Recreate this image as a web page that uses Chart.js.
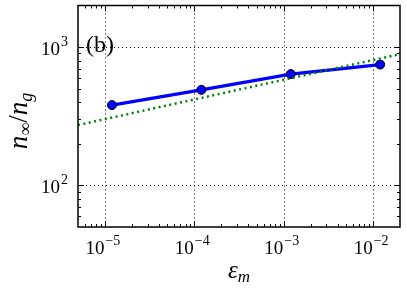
<!DOCTYPE html>
<html>
<head>
<meta charset="utf-8">
<script src="https://cdn.jsdelivr.net/npm/chart.js@4"></script>
<style>
  body { margin: 0; background: #fff; }
  #wrap { width: 407px; height: 295px; }
</style>
</head>
<body>
<div id="wrap"><canvas id="myChart" width="407" height="295"></canvas></div>
<script>
// values
const epsM = [1.2e-5, 1.2e-4, 1.2e-3, 1.2e-2];
const nRatio = [381, 491, 638, 748];
const fitX = [5e-6, 2e-2];
const fitY = [273, 890];
const xDecades = [1e-5, 1e-4, 1e-3, 1e-2];
const xExponents = ["\u22125", "\u22124", "\u22123", "\u22122"];
const yDecades = [100, 1000];
const yExponents = ["2", "3"];

const SERIF = '"Liberation Serif", "DejaVu Serif", serif';

function minorValues(min, max) {
	let out = [];
	let start = Math.floor(Math.log10(min));
	let end = Math.ceil(Math.log10(max));
	for (let e = start; e <= end; e++) {
		for (let m = 1; m <= 9; m++) {
			let v = m * Math.pow(10, e);
			if (v > min * 1.0001 && v < max * 0.9999) out.push({ v: v, major: m === 1 });
		}
	}
	return out;
}

// draw "10" with a raised exponent
function powWidth(ctx, exp) {
	ctx.font = "19px " + SERIF;
	let w1 = ctx.measureText("10").width;
	ctx.font = "14px " + SERIF;
	return w1 + 1 + ctx.measureText(exp).width;
}
function drawPow(ctx, exp, x, y) {
	ctx.font = "19px " + SERIF;
	ctx.fillText("10", x, y);
	let w1 = ctx.measureText("10").width;
	ctx.font = "14px " + SERIF;
	ctx.fillText(exp, x + w1 + 1, y - 9);
}

const axesPlugin = {
	id: 'axesPlugin',
	beforeDatasetsDraw(chart) {
		const ctx = chart.ctx;
		const a = chart.chartArea;
		const xs = chart.scales.x, ys = chart.scales.y;
		ctx.save();
		// "(b)" panel tag
		ctx.fillStyle = "#000";
		ctx.textBaseline = "alphabetic";
		ctx.textAlign = "left";
		ctx.font = "24px " + SERIF;
		ctx.fillText("(b)", a.left + 8, a.top + 46);
		// dotted grid at decades
		ctx.strokeStyle = "#000";
		ctx.lineWidth = 1;
		ctx.setLineDash([1, 3]);
		xDecades.forEach(v => {
			let px = Math.round(xs.getPixelForValue(v)) + 0.5;
			ctx.beginPath(); ctx.moveTo(px, a.top); ctx.lineTo(px, a.bottom); ctx.stroke();
		});
		yDecades.forEach(v => {
			let py = Math.round(ys.getPixelForValue(v)) + 0.5;
			ctx.beginPath(); ctx.moveTo(a.left, py); ctx.lineTo(a.right, py); ctx.stroke();
		});
		ctx.setLineDash([]);
		// inward ticks on all four sides
		ctx.lineWidth = 1;
		minorValues(xs.min, xs.max).forEach(t => {
			let px = Math.round(xs.getPixelForValue(t.v)) + 0.5;
			let len = t.major ? 6 : 3;
			ctx.beginPath();
			ctx.moveTo(px, a.bottom); ctx.lineTo(px, a.bottom - len);
			ctx.moveTo(px, a.top); ctx.lineTo(px, a.top + len);
			ctx.stroke();
		});
		minorValues(ys.min, ys.max).forEach(t => {
			let py = Math.round(ys.getPixelForValue(t.v)) + 0.5;
			let len = t.major ? 6 : 3;
			ctx.beginPath();
			ctx.moveTo(a.left, py); ctx.lineTo(a.left + len, py);
			ctx.moveTo(a.right, py); ctx.lineTo(a.right - len, py);
			ctx.stroke();
		});
		ctx.restore();
	},
	afterDraw(chart) {
		const ctx = chart.ctx;
		const a = chart.chartArea;
		const xs = chart.scales.x, ys = chart.scales.y;
		ctx.save();
		// frame
		ctx.strokeStyle = "#000";
		ctx.lineWidth = 1.5;
		ctx.strokeRect(a.left, a.top, a.right - a.left, a.bottom - a.top);
		ctx.fillStyle = "#000";
		ctx.textAlign = "left";
		ctx.textBaseline = "alphabetic";
		// x tick labels
		xDecades.forEach((v, i) => {
			let px = xs.getPixelForValue(v);
			let w = powWidth(ctx, xExponents[i]);
			drawPow(ctx, xExponents[i], px - w / 2 - 2, a.bottom + 27);
		});
		// y tick labels
		yDecades.forEach((v, i) => {
			let py = ys.getPixelForValue(v);
			let w = powWidth(ctx, yExponents[i]);
			drawPow(ctx, yExponents[i], a.left - 10 - w, py + 8);
		});
		// x axis label: epsilon_m
		let xl = (a.left + a.right) / 2;
		ctx.font = "italic 25px " + SERIF;
		let we = ctx.measureText("\u03b5").width;
		ctx.font = "italic 17px " + SERIF;
		let wm = ctx.measureText("m").width;
		let x0 = xl - (we + wm) / 2;
		ctx.font = "italic 25px " + SERIF;
		ctx.fillText("\u03b5", x0, 278);
		ctx.font = "italic 17px " + SERIF;
		ctx.fillText("m", x0 + we, 282);
		// y axis label: n_inf / n_g
		ctx.translate(27, 121);
		ctx.rotate(-Math.PI / 2);
		let parts = [
			{ t: "n", f: "italic 27px " + SERIF, dy: 0 },
			{ t: "\u221e", f: "18px " + SERIF, dy: 4 },
			{ t: "/", f: "27px " + SERIF, dy: 0 },
			{ t: "n", f: "italic 27px " + SERIF, dy: 0 },
			{ t: "g", f: "italic 18px " + SERIF, dy: 5 }
		];
		let total = 0;
		parts.forEach(p => { ctx.font = p.f; p.w = ctx.measureText(p.t).width; total += p.w; });
		let cx = -total / 2;
		parts.forEach(p => {
			ctx.font = p.f;
			ctx.fillText(p.t, cx, p.dy);
			cx += p.w;
		});
		ctx.restore();
	}
};

const data = {
	datasets: [
		{
			label: "fit",
			data: fitX.map((x, i) => ({ x: x, y: fitY[i] })),
			borderColor: "#008000",
			borderWidth: 2.5,
			borderDash: [2, 3.5],
			pointRadius: 0,
			fill: false
		},
		{
			label: "n",
			data: epsM.map((x, i) => ({ x: x, y: nRatio[i] })),
			borderColor: "#0000ff",
			borderWidth: 3.2,
			pointRadius: 4.5,
			pointBackgroundColor: "#0000ff",
			pointBorderColor: "#000",
			pointBorderWidth: 1,
			fill: false
		}
	]
};

const config = {
	type: 'line',
	data: data,
	options: {
		responsive: false,
		animation: false,
		layout: { padding: { left: 78, right: 7, top: 5, bottom: 68 } },
		plugins: { legend: { display: false }, tooltip: { enabled: false } },
		scales: {
			x: {
				type: 'logarithmic',
				min: 5e-6,
				max: 2e-2,
				grid: { display: false, drawTicks: false },
				border: { display: false },
				ticks: { display: false }
			},
			y: {
				type: 'logarithmic',
				min: 50,
				max: 2000,
				grid: { display: false, drawTicks: false },
				border: { display: false },
				ticks: { display: false }
			}
		}
	},
	plugins: [axesPlugin]
};

let myChart = new Chart(document.getElementById("myChart"), config);
</script>
</body>
</html>
